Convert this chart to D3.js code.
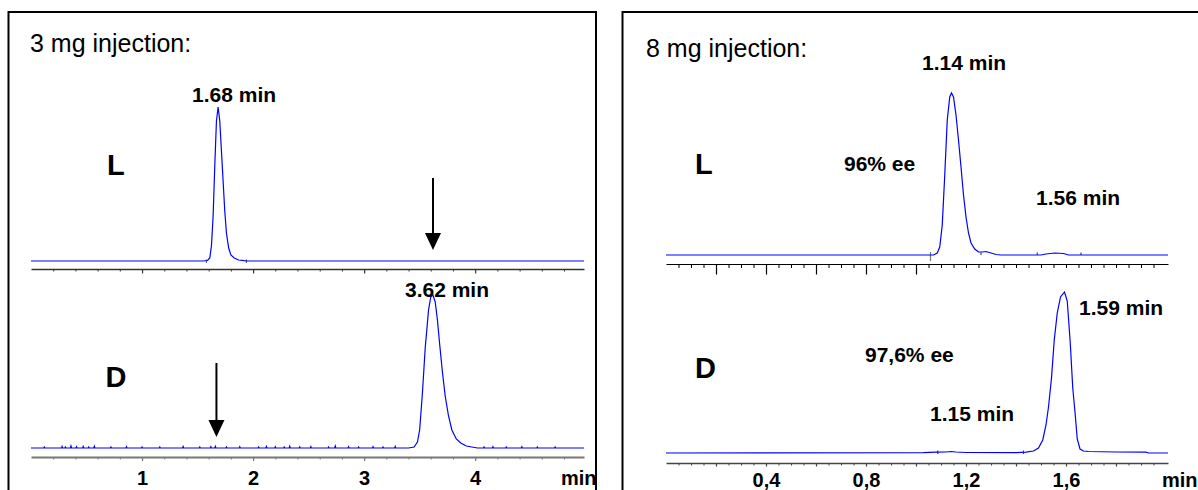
<!DOCTYPE html>
<html>
<head>
<meta charset="utf-8">
<script src="https://cdn.jsdelivr.net/npm/d3@7"></script>
<style>
  body { margin: 0; background: #fff; }
  svg { display: block; }
  text { font-family: "Liberation Sans", Arial, sans-serif; fill: #000; }
</style>
</head>
<body>
<div id="chart"></div>
<script>
// ---- data (time in min, signal in arbitrary units) ----

// 3 mg injection, L trace
const l3Time = [0, 1.55, 1.59, 1.61, 1.625, 1.64, 1.655, 1.67, 1.685, 1.70, 1.715, 1.73, 1.745, 1.76, 1.78, 1.80, 1.83, 1.87, 1.92, 1.95, 4.98];
const l3Signal = [0, 0, 0.5, 3, 15, 45, 95, 140, 154, 140, 110, 80, 50, 28, 13, 6, 3, 1, 0.3, 0, 0];

// 3 mg injection, D trace
const d3Time = [0, 3.40, 3.45, 3.48, 3.50, 3.525, 3.55, 3.58, 3.60, 3.62, 3.64, 3.66, 3.68, 3.705, 3.73, 3.76, 3.79, 3.83, 3.87, 3.92, 3.97, 4.02, 4.98];
const d3Signal = [0, 0, 1, 6, 18, 55, 100, 138, 151, 153, 146, 128, 104, 76, 52, 32, 18, 9, 5, 2, 1, 0, 0];
// baseline noise spikes on the D trace
const d3NoiseTime = [0.12, 0.28, 0.31, 0.36, 0.41, 0.47, 0.52, 0.57, 0.72, 0.86, 1.0, 1.16, 1.37, 1.52, 1.62, 1.66, 1.76, 1.88, 2.05, 2.12, 2.2, 2.28, 2.33, 2.42, 2.52, 2.68, 2.74, 2.86, 2.95, 3.08, 3.17, 3.28, 4.08, 4.16, 4.28, 4.42, 4.56, 4.72];
const d3NoiseSignal = [1, 1.5, 1, 2, 1.2, 1.5, 1, 1.8, 1, 1.2, 1, 1, 1.5, 1, 1.3, 1.6, 1, 1.2, 1, 1.5, 1.3, 1, 1.8, 1.1, 1.4, 1, 2, 1.3, 1, 1.2, 1, 1.5, 1, 1.3, 1, 1.2, 1, 1];

// 8 mg injection, L trace
const l8Time = [0, 1.07, 1.085, 1.095, 1.105, 1.115, 1.125, 1.135, 1.142, 1.15, 1.16, 1.17, 1.18, 1.19, 1.20, 1.21, 1.22, 1.235, 1.25, 1.265, 1.28, 1.30, 1.32, 1.34, 1.50, 1.52, 1.555, 1.59, 1.61, 2.008];
const l8Signal = [0, 0, 2, 8, 30, 80, 135, 158, 162, 158, 140, 115, 88, 60, 38, 22, 12, 6, 3, 3, 3.5, 2, 0.5, 0, 0, 1, 2, 1.5, 0, 0];

// 8 mg injection, D trace
const d8Time = [0, 1.03, 1.08, 1.12, 1.14, 1.16, 1.20, 1.40, 1.44, 1.47, 1.49, 1.507, 1.52, 1.53, 1.542, 1.553, 1.565, 1.578, 1.594, 1.605, 1.617, 1.627, 1.637, 1.645, 1.656, 1.67, 1.69, 1.80, 1.92, 1.93, 2.008];
const d8Signal = [0, 0.3, 0.8, 1, 1.5, 1, 0.5, 0.3, 0.8, 2, 5, 13, 28, 46, 75, 113, 140, 156, 161, 152, 110, 65, 38, 14, 4, 2, 1.5, 1, 0.8, 0, 0];

// integration marks on the traces
const l3Marks = [1.58, 1.94];
const l8Marks = [1.26, 1.485, 1.66];
const l8StartMark = [1.058];
const d8Marks = [1.087, 1.43];

// axis ticks and labels
const leftMinorTicks = d3.range(1, 25).map(i => i * 0.2).filter(v => Math.abs(v - Math.round(v)) > 1e-6);
const leftMajorTicks = [1, 2, 3, 4];
const leftTickLabels = ["1", "2", "3", "4"];
const rightMinorTicks = d3.range(1, 40).map(i => +(i * 0.05).toFixed(2));
const rightTopMajorTicks = [0.2, 0.4, 0.6, 0.8, 1.0];
const rightBottomMajorTicks = [0.2, 0.4, 0.6, 0.8, 1.0, 1.2, 1.4, 1.6, 1.8];
const rightLabelTicks = [0.4, 0.8, 1.2, 1.6];
const rightTickLabels = ["0,4", "0,8", "1,2", "1,6"];

// annotations [text, time, signal]
const leftNotesL = [["1.68 min", 1.45, 159], ["L", 0.684, 86]];
const leftNotesD = [["3.62 min", 3.368, 151], ["D", 0.672, 61]];
const rightNotesL = [["1.14 min", 1.024, 185], ["96% ee", 0.712, 84], ["1.56 min", 1.48, 50], ["L", 0.116, 81.5]];
const rightNotesD = [["1.59 min", 1.652, 138], ["97,6% ee", 0.796, 91], ["1.15 min", 1.056, 32.3], ["D", 0.116, 75.3]];

// arrows [time, from signal, to signal]
const leftArrowL = [3.62, 83, 11];
const leftArrowD = [1.67, 85, 11];

// ---- drawing ----
const svgWidth = 1198;
const svgHeight = 490;

const svg = d3.select("#chart")
  .append("svg")
  .attr("width", svgWidth)
  .attr("height", svgHeight);

function zip(ts, hs) {
  return ts.map((t, i) => [t, hs[i]]);
}

function addSpikes(points, ts, hs) {
  const pts = points.slice();
  ts.forEach((t, i) => {
    pts.push([t - 0.005, 0], [t, hs[i]], [t + 0.005, 0]);
  });
  return pts.sort((a, b) => a[0] - b[0]);
}

function drawTrace(g, x, y, points) {
  const line = d3.line()
    .x(d => x(d[0]))
    .y(d => y(d[1]));
  g.append("path")
    .attr("fill", "none")
    .attr("stroke", "#0000ff")
    .attr("stroke-width", 1.2)
    .attr("d", line(points));
}

function drawAxis(g, x, yPos, minor, major, minorLen, majorLen, color, width) {
  const a = g.append("g")
    .attr("transform", `translate(0,${yPos})`)
    .call(d3.axisBottom(x).tickValues(minor).tickSize(minorLen).tickFormat("").tickSizeOuter(0));
  a.select(".domain").attr("stroke", color).attr("stroke-width", width);
  a.selectAll(".tick line").attr("stroke", color).attr("stroke-width", 1);

  const b = g.append("g")
    .attr("transform", `translate(0,${yPos})`)
    .call(d3.axisBottom(x).tickValues(major).tickSize(majorLen).tickFormat(""));
  b.select(".domain").remove();
  b.selectAll(".tick line").attr("stroke", color).attr("stroke-width", 1.2);
}

function drawLabels(g, x, yPos, values, labels) {
  const a = g.append("g")
    .attr("transform", `translate(0,${yPos})`)
    .call(d3.axisBottom(x).tickValues(values).tickSize(0)
      .tickFormat((d, i) => labels[i]));
  a.select(".domain").remove();
  a.selectAll("text")
    .attr("y", 0)
    .attr("dy", 0)
    .attr("fill", "#000")
    .style("font-size", "20px")
    .style("font-weight", "bold");
}

function drawNotes(g, x, y, notes) {
  notes.forEach(n => {
    const big = n[0] === "L" || n[0] === "D";
    g.append("text")
      .attr("x", x(n[1]))
      .attr("y", y(n[2]))
      .style("font-size", big ? "29px" : "21px")
      .style("font-weight", "bold")
      .text(n[0]);
  });
}

function drawMarks(g, x, y, marks, up, down, color) {
  g.selectAll(null)
    .data(marks)
    .enter()
    .append("line")
    .attr("x1", d => x(d))
    .attr("x2", d => x(d))
    .attr("y1", y(up))
    .attr("y2", y(down))
    .attr("stroke", color)
    .attr("stroke-width", 1.2);
}

function drawArrow(g, x, y, arrow) {
  const xp = x(arrow[0]);
  const yTop = y(arrow[1]);
  const yTip = y(arrow[2]);
  g.append("line")
    .attr("x1", xp).attr("x2", xp)
    .attr("y1", yTop).attr("y2", yTip - 14)
    .attr("stroke", "#000")
    .attr("stroke-width", 2);
  g.append("path")
    .attr("d", `M${xp - 8},${yTip - 17} L${xp + 8},${yTip - 17} L${xp},${yTip} Z`)
    .attr("fill", "#000");
}

// ---- left panel: 3 mg ----
const gl = svg.append("g");
const xLeft = d3.scaleLinear().domain([0, 4.98]).range([31, 584]);
const yL3 = d3.scaleLinear().domain([0, 160]).range([261, 101]);
const yD3 = d3.scaleLinear().domain([0, 160]).range([448, 288]);

gl.append("text")
  .attr("x", 30)
  .attr("y", 52)
  .style("font-size", "25px")
  .text("3 mg injection:");

drawAxis(gl, xLeft, 269, leftMinorTicks, leftMajorTicks, 2.5, 4.5, "#333", 1.5);
drawAxis(gl, xLeft, 457, leftMinorTicks, leftMajorTicks, 2.5, 4, "#777", 2);
drawLabels(gl, xLeft, 485, leftMajorTicks, leftTickLabels);
gl.append("text")
  .attr("x", 561)
  .attr("y", 485)
  .style("font-size", "20px")
  .style("font-weight", "bold")
  .text("min");

drawMarks(gl, xLeft, yL3, l3Marks, 1.5, -2, "#666");
drawTrace(gl, xLeft, yL3, zip(l3Time, l3Signal));
drawTrace(gl, xLeft, yD3, addSpikes(zip(d3Time, d3Signal), d3NoiseTime, d3NoiseSignal));
drawNotes(gl, xLeft, yL3, leftNotesL);
drawNotes(gl, xLeft, yD3, leftNotesD);
drawArrow(gl, xLeft, yL3, leftArrowL);
drawArrow(gl, xLeft, yD3, leftArrowD);

// ---- right panel: 8 mg ----
const gr = svg.append("g");
const xRight = d3.scaleLinear().domain([0, 2.008]).range([666, 1168]);
const yL8 = d3.scaleLinear().domain([0, 160]).range([255, 95]);
const yD8 = d3.scaleLinear().domain([0, 160]).range([453, 293]);

gr.append("text")
  .attr("x", 646)
  .attr("y", 57)
  .style("font-size", "25px")
  .text("8 mg injection:");

drawAxis(gr, xRight, 264, rightMinorTicks, rightTopMajorTicks, 4, 10.5, "#000", 1.2);
drawAxis(gr, xRight, 463, rightMinorTicks, rightBottomMajorTicks, 2.5, 3.5, "#444", 1.5);
drawLabels(gr, xRight, 487, rightLabelTicks, rightTickLabels);
gr.append("text")
  .attr("x", 1162)
  .attr("y", 487)
  .style("font-size", "20px")
  .style("font-weight", "bold")
  .text("min");

drawMarks(gr, xRight, yL8, l8StartMark, 3, -6, "#777");
drawMarks(gr, xRight, yL8, l8Marks, 2.5, 0, "#444");
drawMarks(gr, xRight, yD8, d8Marks, 2.5, -1, "#444");
drawTrace(gr, xRight, yL8, zip(l8Time, l8Signal));
drawTrace(gr, xRight, yD8, zip(d8Time, d8Signal));
drawNotes(gr, xRight, yL8, rightNotesL);
drawNotes(gr, xRight, yD8, rightNotesD);

// ---- panel frames (open at the bottom / cut at the right) ----
svg.append("rect")
  .attr("x", 8.5).attr("y", 12)
  .attr("width", 587.5).attr("height", 500)
  .attr("fill", "none")
  .attr("stroke", "#000")
  .attr("stroke-width", 2);
svg.append("rect")
  .attr("x", 622.5).attr("y", 12)
  .attr("width", 600).attr("height", 500)
  .attr("fill", "none")
  .attr("stroke", "#000")
  .attr("stroke-width", 2);
</script>
</body>
</html>
